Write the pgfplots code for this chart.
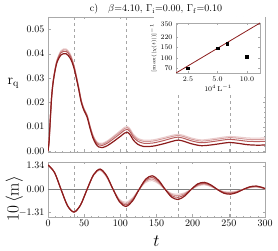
\documentclass[border=0pt]{standalone}
\usepackage{pgfplots}
\pgfplotsset{compat=1.18}
\usepackage{pgfplotstable}

\definecolor{cA}{RGB}{140,28,28}
\definecolor{cB}{RGB}{185,95,95}
\definecolor{cC}{RGB}{212,155,155}
\definecolor{cD}{RGB}{234,205,205}
\definecolor{framegray}{RGB}{170,170,170}

\pgfplotstableread{
t c1 c2 c3 c4
0 0 0 0 0
1.5 0.004 0.0041 0.0042 0.0042
3 0.012 0.0122 0.0122 0.0123
5 0.022 0.0223 0.0224 0.0225
7.5 0.029 0.0294 0.0296 0.0297
12 0.036 0.0365 0.0368 0.0370
18 0.0395 0.0404 0.0409 0.0413
25 0.0400 0.0410 0.0416 0.0420
31 0.0380 0.0389 0.0394 0.0398
36 0.0340 0.0346 0.0350 0.0352
42 0.0260 0.0265 0.0268 0.0270
46 0.0200 0.0205 0.0207 0.0209
50 0.0165 0.0169 0.0171 0.0173
54 0.0140 0.0145 0.0147 0.0149
58 0.0095 0.0100 0.0103 0.0105
62 0.0055 0.0061 0.0065 0.0067
66 0.0030 0.0037 0.0041 0.0044
70 0.0017 0.0025 0.0030 0.0033
75 0.0014 0.0023 0.0028 0.0032
82 0.0022 0.0032 0.0038 0.0042
90 0.0038 0.0049 0.0056 0.0060
100 0.0060 0.0072 0.0079 0.0084
106 0.0074 0.0086 0.0093 0.0098
110 0.0077 0.0089 0.0096 0.0101
114 0.0065 0.0077 0.0084 0.0089
118 0.0045 0.0057 0.0064 0.0069
124 0.0028 0.0041 0.0048 0.0053
132 0.0019 0.0032 0.0040 0.0045
145 0.0020 0.0033 0.0041 0.0046
160 0.0030 0.0043 0.0051 0.0056
172 0.0040 0.0053 0.0060 0.0065
180 0.0045 0.0057 0.0064 0.0069
188 0.0040 0.0052 0.0059 0.0064
198 0.0030 0.0042 0.0049 0.0054
212 0.0022 0.0034 0.0041 0.0046
228 0.0026 0.0039 0.0046 0.0051
244 0.0033 0.0046 0.0053 0.0058
252 0.0035 0.0048 0.0055 0.0060
262 0.0032 0.0045 0.0053 0.0058
276 0.0026 0.0040 0.0048 0.0054
290 0.0024 0.0039 0.0047 0.0053
300 0.0025 0.0040 0.0049 0.0055
}\rqtab

\pgfplotstableread{
t m1 m2 m3 m4
0 1.38 1.38 1.38 1.38
9 0.958 0.958 0.958 0.956
18 0 0 0 0
27 -0.923 -0.923 -0.923 -0.917
36 -1.28 -1.28 -1.28 -1.27
45 -0.882 -0.878 -0.873 -0.863
54 0 0 0 0
63 0.836 0.825 0.810 0.792
72 1.15 1.13 1.10 1.07
81 0.779 0.755 0.725 0.695
90 0 0 0 0
99 -0.712 -0.666 -0.619 -0.571
108 -0.96 -0.88 -0.80 -0.72
117 -0.645 -0.587 -0.528 -0.470
126 0 0 0 0
135 0.578 0.516 0.454 0.392
144 0.77 0.68 0.59 0.50
153 0.509 0.440 0.375 0.313
162 0 0 0 0
171 -0.438 -0.359 -0.290 -0.232
180 -0.57 -0.45 -0.35 -0.27
189 -0.373 -0.300 -0.239 -0.189
198 0 0 0 0
207 0.313 0.265 0.221 0.186
216 0.40 0.35 0.30 0.26
225 0.260 0.224 0.191 0.163
234 0 0 0 0
243 -0.214 -0.179 -0.148 -0.120
252 -0.27 -0.22 -0.18 -0.14
261 -0.177 -0.147 -0.122 -0.097
270 0 0 0 0
279 0.148 0.129 0.111 0.094
288 0.19 0.17 0.15 0.13
297 0.10 0.09 0.08 0.07
300 0.04 0.035 0.03 0.03
}\mtab

\pgfplotsset{
  frame/.style={
    scale only axis,
    axis line style={framegray},
    tick style={framegray, thin},
    major tick length=2.5pt,
    minor tick length=1.3pt,
    tick align=inside,
    tick label style={font=\normalsize},
    xmin=0, xmax=300,
    xtick={0,50,100,150,200,250,300},
    minor x tick num=4,
    extra x ticks={36,108,180,252},
    extra x tick labels={},
    extra x tick style={grid=major, major grid style={gray!70, dashed, thin}, major tick length=0pt},
  },
}

\begin{document}
\begin{tikzpicture}
\path[use as bounding box] (0,0) rectangle (278pt,251pt);

% top panel
\begin{axis}[frame,
  at={(48pt,99pt)}, anchor=south west,
  width=217pt, height=135pt,
  ymin=-0.0004, ymax=0.0551,
  ytick={0,0.01,0.02,0.03,0.04,0.05},
  minor y tick num=4,
  scaled y ticks=false,
  yticklabel style={/pgf/number format/fixed, /pgf/number format/fixed zerofill, /pgf/number format/precision=2},
  xticklabels={},
  ylabel={$\mathrm{r}_{\mathrm{q}}$},
  ylabel style={font=\Large, rotate=-90, at={(axis description cs:-0.16,0.51)}, anchor=center},
]
\addplot[cD, line width=1.0pt, smooth] table[x=t, y=c4] {\rqtab};
\addplot[cC, line width=1.0pt, smooth] table[x=t, y=c3] {\rqtab};
\addplot[cB, line width=1.0pt, smooth] table[x=t, y=c2] {\rqtab};
\addplot[cA, line width=1.2pt, smooth] table[x=t, y=c1] {\rqtab};
\end{axis}

\node[font=\normalsize, anchor=base] at (156pt,239pt) {c)\quad $\beta$=4.10, $\Gamma_{\mathrm{i}}$=0.00, $\Gamma_{\mathrm{f}}$=0.10};

\fill[white] (154pt,158pt) rectangle (264.5pt,233.5pt);

% inset
\begin{axis}[
  scale only axis,
  at={(176pt,178pt)}, anchor=south west,
  width=84pt, height=50pt,
  xmode=log, ymode=log,
  xmin=1.89, xmax=13.6, ymin=59, ymax=364,
  axis background/.style={fill=white},
  axis line style={framegray},
  tick style={framegray, thin},
  major tick length=2pt,
  tick align=inside,
  minor tick num=0,
  xtick={2.5,5,10}, xticklabels={2.5,5.0,10.0},
  ytick={70,100,150,220,350}, yticklabels={70,100,150,220,350},
  tick label style={font=\scriptsize},
  xlabel={$10^4\,\mathrm{L}^{-1}$},
  ylabel={$[\max(|\chi(t)|)]^{-1}$},
  xlabel style={font=\scriptsize, yshift=3pt},
  ylabel style={font=\tiny, yshift=-3pt},
]
\addplot[cA, line width=0.8pt] coordinates {(1.89,59) (13.6,364)};
\addplot[only marks, mark=square*, mark size=1.4pt, black] coordinates {(2.5,70) (5,145) (6.3,169) (10,107)};
\end{axis}

% bottom panel
\begin{axis}[frame,
  at={(48pt,34pt)}, anchor=south west,
  width=217pt, height=55pt,
  ymin=-1.56, ymax=1.55,
  ytick={-1.31,0,1.34},
  yticklabels={$-1.31$,$0.00$,$1.34$},
  xlabel={$t$},
  xlabel style={font=\LARGE, at={(axis description cs:0.5,-0.44)}, anchor=center},
  ylabel={$10\,\langle \mathrm{m}\rangle$},
  ylabel style={font=\LARGE, at={(axis description cs:-0.155,0.33)}, anchor=center},
]
\addplot[gray, line width=1.2pt] coordinates {(0,0) (300,0)};
\addplot[cD, line width=1.0pt, smooth] table[x=t, y=m4] {\mtab};
\addplot[cC, line width=1.0pt, smooth] table[x=t, y=m3] {\mtab};
\addplot[cB, line width=1.0pt, smooth] table[x=t, y=m2] {\mtab};
\addplot[cA, line width=1.2pt, smooth] table[x=t, y=m1] {\mtab};
\end{axis}
\end{tikzpicture}
\end{document}
